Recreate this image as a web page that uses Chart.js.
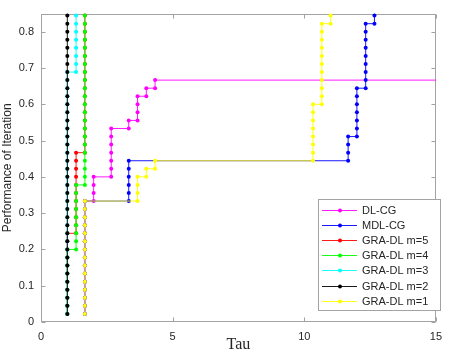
<!DOCTYPE html>
<html>
<head>
<meta charset="utf-8">
<script src="https://cdn.jsdelivr.net/npm/chart.js@4.4.1/dist/chart.umd.min.js"></script>
<style>
  html, body { margin: 0; padding: 0; background: #fff; }
  #wrap { position: relative; width: 450px; height: 354px; }
</style>
</head>
<body>
<div id="wrap"><canvas id="chart"></canvas></div>
<script>
// profile goes up in steps of 1/45 (one per test problem)
const nProblems = 45;

// for each solver: the tau values where the curve steps up,
// and how many problems are solved by that tau
const dlcgTau = [1.667, 2.0, 2.667, 3.333, 3.667, 4.0, 4.333, 20];
const dlcgSolved = [15, 18, 24, 25, 28, 29, 30, 30];

const mdlcgTau = [1.667, 3.333, 11.667, 12.0, 12.333, 12.667];
const mdlcgSolved = [15, 20, 23, 29, 37, 40];

const gra5Tau = [1, 1.333, 1.667];
const gra5Solved = [11, 21, 40];

const gra4Tau = [1, 1.333, 1.667];
const gra4Solved = [9, 17, 40];

const gra3Tau = [1, 1.333];
const gra3Solved = [31, 40];

const gra2Tau = [1];
const gra2Solved = [40];

const gra1Tau = [1.667, 3.667, 4.0, 4.333, 10.333, 10.667, 11.0];
const gra1Solved = [15, 18, 19, 20, 27, 37, 40];

const seriesNames = ['DL-CG', 'MDL-CG', 'GRA-DL m=5', 'GRA-DL m=4', 'GRA-DL m=3', 'GRA-DL m=2', 'GRA-DL m=1'];
const seriesColors = ['#ff00ff', '#0000ff', '#ff0000', '#00ff00', '#00ffff', '#000000', '#ffff00'];
const seriesTau = [dlcgTau, mdlcgTau, gra5Tau, gra4Tau, gra3Tau, gra2Tau, gra1Tau];
const seriesSolved = [dlcgSolved, mdlcgSolved, gra5Solved, gra4Solved, gra3Solved, gra2Solved, gra1Solved];

const xTicks = [0, 5, 10, 15];
const yTicks = [0, 0.1, 0.2, 0.3, 0.4, 0.5, 0.6, 0.7, 0.8];

// stairs like matlab: horizontal to the new tau, then up one problem at a time
function stairs(tau, solved) {
    const pts = [];
    let prev = 0;
    for (let j = 0; j < tau.length; j++) {
        let k = j === 0 ? 1 : prev;
        for (; k <= solved[j]; k++) {
            pts.push({ x: tau[j], y: k / nProblems });
        }
        prev = solved[j];
    }
    return pts;
}

const datasets = seriesNames.map((name, i) => ({
    label: name,
    data: stairs(seriesTau[i], seriesSolved[i]),
    borderColor: seriesColors[i],
    backgroundColor: seriesColors[i],
    borderWidth: 0.9,
    pointRadius: 2,
    pointBorderWidth: 0,
    pointBackgroundColor: seriesColors[i],
    tension: 0,
    order: seriesNames.length - 1 - i   // later series on top, like matlab
}));

const axisGray = '#a3a3a3';
const textGray = '#262626';

// box round the plot with inward ticks on all four sides
const framePlugin = {
    id: 'frame',
    beforeDatasetsDraw(chart) {
        const { ctx, chartArea: a, scales } = chart;
        const l = Math.round(a.left) + 0.5, r = Math.round(a.right) - 0.5;
        const t = Math.round(a.top) + 0.5, b = Math.round(a.bottom) - 0.5;
        ctx.save();
        ctx.strokeStyle = axisGray;
        ctx.lineWidth = 1;
        ctx.strokeRect(l, t, r - l, b - t);
        ctx.beginPath();
        xTicks.forEach(v => {
            const px = Math.round(scales.x.getPixelForValue(v)) + 0.5;
            ctx.moveTo(px, b); ctx.lineTo(px, b - 4);
            ctx.moveTo(px, t); ctx.lineTo(px, t + 4);
        });
        yTicks.forEach(v => {
            const py = Math.round(scales.y.getPixelForValue(v)) + 0.5;
            ctx.moveTo(l, py); ctx.lineTo(l + 4, py);
            ctx.moveTo(r, py); ctx.lineTo(r - 4, py);
        });
        ctx.stroke();
        ctx.restore();
    }
};

// legend box in the lower right corner of the plot
const legendPlugin = {
    id: 'boxLegend',
    afterDraw(chart) {
        const { ctx } = chart;
        const bx = 318.5, by = 199.5, bw = 122, bh = 111;
        ctx.save();
        ctx.fillStyle = '#ffffff';
        ctx.fillRect(bx, by, bw, bh);
        ctx.strokeStyle = axisGray;
        ctx.lineWidth = 1;
        ctx.strokeRect(bx, by, bw, bh);
        ctx.font = '11px "Liberation Sans", Arial, sans-serif';
        ctx.textBaseline = 'middle';
        ctx.textAlign = 'left';
        seriesNames.forEach((name, i) => {
            const yy = Math.round(by + 10 + i * 15.2) + 0.5;
            ctx.strokeStyle = seriesColors[i];
            ctx.lineWidth = 0.9;
            ctx.beginPath();
            ctx.moveTo(322, yy); ctx.lineTo(357, yy);
            ctx.stroke();
            ctx.fillStyle = seriesColors[i];
            ctx.beginPath();
            ctx.arc(340, yy, 2, 0, Math.PI * 2);
            ctx.fill();
            ctx.fillStyle = textGray;
            ctx.fillText(name, 362, yy);
        });
        ctx.restore();
    }
};

const ctx = document.getElementById('chart').getContext('2d');
const chart = new Chart(ctx, {
    type: 'line',
    data: { datasets: datasets },
    options: {
        responsive: true,
        maintainAspectRatio: false,
        animation: false,
        layout: { padding: { top: 6, right: 8, left: 0, bottom: 0 } },
        plugins: {
            legend: { display: false },
            tooltip: { enabled: false }
        },
        scales: {
            x: {
                type: 'linear',
                min: 0,
                max: 15,
                grid: { display: false, drawTicks: false },
                border: { display: false },
                afterBuildTicks: s => { s.ticks = xTicks.map(v => ({ value: v })); },
                afterFit: s => { s.height = 32; },
                ticks: {
                    color: textGray,
                    padding: 8,
                    maxRotation: 0,
                    font: { family: '"Liberation Sans", Arial, sans-serif', size: 11 }
                },
                title: {
                    display: true,
                    text: 'Tau',
                    color: textGray,
                    padding: 0,
                    font: { family: '"Liberation Serif", "Times New Roman", serif', size: 16 }
                }
            },
            y: {
                min: 0,
                max: 0.85,
                grid: { display: false, drawTicks: false },
                border: { display: false },
                afterBuildTicks: s => { s.ticks = yTicks.map(v => ({ value: v })); },
                afterFit: s => { s.width = 41; },
                ticks: {
                    color: textGray,
                    padding: 7,
                    font: { family: '"Liberation Sans", Arial, sans-serif', size: 11 }
                },
                title: {
                    display: true,
                    text: 'Performance of Iteration',
                    color: textGray,
                    padding: 0,
                    font: { family: '"Liberation Sans", Arial, sans-serif', size: 12 }
                }
            }
        }
    },
    plugins: [framePlugin, legendPlugin]
});
</script>
</body>
</html>
